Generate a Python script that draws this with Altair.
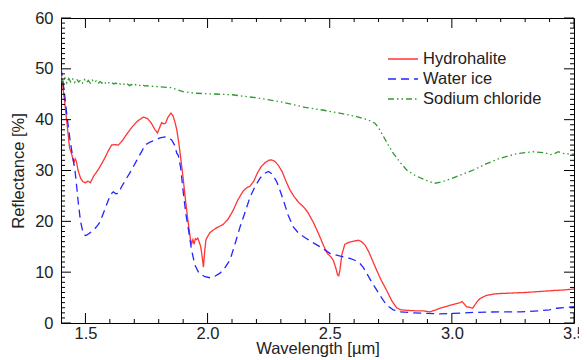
import altair as alt
import pandas as pd

# ---------------- data ----------------
series_names = ["Hydrohalite", "Water ice", "Sodium chloride"]

hyd_wl = [1.400, 1.405, 1.415, 1.425, 1.435, 1.445, 1.452, 1.458, 1.463, 1.470,
          1.480, 1.490, 1.500, 1.510, 1.520, 1.535, 1.550, 1.565, 1.580, 1.595,
          1.607, 1.620, 1.635, 1.650, 1.670, 1.690, 1.710, 1.737, 1.755, 1.770,
          1.785, 1.795, 1.805, 1.812, 1.820, 1.828, 1.838, 1.850, 1.858, 1.866,
          1.874, 1.882, 1.890, 1.900, 1.910, 1.920, 1.930, 1.935, 1.940, 1.945,
          1.950, 1.955, 1.960, 1.966, 1.972, 1.978, 1.983, 1.988, 1.993, 2.000,
          2.010, 2.023, 2.040, 2.064, 2.085, 2.105, 2.125, 2.146, 2.160, 2.174,
          2.190, 2.205, 2.220, 2.235, 2.250, 2.262, 2.275, 2.290, 2.305, 2.320,
          2.337, 2.355, 2.375, 2.392, 2.410, 2.433, 2.455, 2.475, 2.490, 2.505,
          2.515, 2.525, 2.532, 2.537, 2.542, 2.550, 2.562, 2.580, 2.600, 2.617,
          2.630, 2.645, 2.660, 2.675, 2.692, 2.710, 2.733, 2.755, 2.774, 2.790,
          2.815, 2.850, 2.880, 2.910, 2.930, 2.951, 2.980, 3.010, 3.033, 3.042,
          3.050, 3.060, 3.070, 3.085, 3.095, 3.105, 3.115, 3.140, 3.170, 3.197,
          3.250, 3.300, 3.360, 3.420, 3.460, 3.500]
hyd_r = [49.0, 47.5, 43.5, 39.0, 34.5, 33.0, 31.5, 32.3, 31.8, 30.0,
         28.5, 27.8, 27.6, 27.9, 27.6, 29.0, 30.0, 31.2, 32.5, 34.0,
         35.0, 35.1, 35.0, 35.8, 37.2, 38.5, 39.6, 40.5, 40.2, 39.3,
         38.0, 37.4, 38.6, 39.4, 39.2, 39.3, 40.5, 41.3, 40.8, 39.6,
         38.0, 35.5, 32.5, 28.5, 24.0, 20.0, 16.5, 15.6, 16.4, 15.5,
         16.6, 16.4, 16.7, 15.9, 15.0, 13.0, 11.0, 14.0, 16.3, 17.0,
         17.8, 18.3, 18.8, 19.4, 20.5, 22.2, 24.3, 26.0, 26.6, 26.9,
         28.0, 29.6, 30.8, 31.5, 32.0, 32.1, 31.8, 31.0, 29.8, 28.0,
         26.2, 24.8, 23.6, 22.9, 21.8, 19.8, 17.5, 15.2, 13.7, 13.0,
         12.3, 10.8, 9.5, 9.3, 10.5, 13.5, 15.5, 15.9, 16.1, 16.3,
         16.0, 15.3, 14.0, 12.3, 10.4, 8.5, 6.4, 4.3, 3.0, 2.6,
         2.5, 2.4, 2.4, 2.2, 2.5, 2.9, 3.3, 3.7, 4.0, 4.2,
         3.8, 3.2, 3.1, 2.9, 3.6, 4.3, 4.8, 5.4, 5.7, 5.8,
         5.9, 6.0, 6.2, 6.4, 6.5, 6.7]

ice_wl = [1.400, 1.408, 1.416, 1.425, 1.437, 1.447, 1.457, 1.465, 1.471, 1.480,
          1.491, 1.500, 1.505, 1.515, 1.525, 1.539, 1.550, 1.560, 1.575, 1.594,
          1.605, 1.614, 1.625, 1.635, 1.648, 1.665, 1.689, 1.710, 1.730, 1.744,
          1.765, 1.785, 1.805, 1.826, 1.840, 1.853, 1.865, 1.874, 1.880, 1.890,
          1.901, 1.911, 1.921, 1.934, 1.948, 1.965, 1.989, 2.010, 2.030, 2.051,
          2.070, 2.092, 2.112, 2.133, 2.155, 2.174, 2.195, 2.215, 2.232, 2.249,
          2.265, 2.283, 2.297, 2.310, 2.330, 2.351, 2.370, 2.392, 2.425, 2.460,
          2.501, 2.540, 2.583, 2.605, 2.624, 2.638, 2.651, 2.670, 2.692, 2.712,
          2.733, 2.760, 2.788, 2.840, 2.897, 2.950, 3.006, 3.100, 3.197, 3.280,
          3.360, 3.400, 3.430, 3.470, 3.500]
ice_r = [50.2, 47.5, 44.5, 40.5, 36.0, 33.0, 30.1, 26.5, 23.5, 20.0,
         17.6, 17.2, 17.3, 17.6, 18.0, 18.6, 19.2, 19.9, 21.8, 24.2,
         25.4, 25.8, 25.4, 25.5, 26.8, 28.2, 30.1, 32.0, 33.7, 35.0,
         35.6, 36.0, 36.4, 36.6, 36.4, 36.0, 35.0, 33.4, 33.0, 30.5,
         25.5, 21.5, 18.6, 14.5, 11.4, 9.8, 9.1, 8.9, 9.2, 9.8,
         10.8, 12.4, 15.5, 18.9, 22.0, 24.8, 26.9, 28.5, 29.4, 29.8,
         29.3, 27.8, 26.0, 24.2, 21.2, 18.9, 17.8, 17.0, 16.0, 15.0,
         13.7, 13.2, 12.7, 12.3, 11.7, 10.9, 9.8, 8.2, 6.5, 5.0,
         3.5, 2.6, 2.2, 2.0, 1.9, 1.8, 1.9, 2.1, 2.2, 2.2,
         2.4, 2.6, 2.9, 3.1, 3.2]

nacl_wl = [1.400, 1.408, 1.416, 1.424, 1.432, 1.440, 1.448, 1.456, 1.464, 1.472,
           1.480, 1.488, 1.496, 1.504, 1.512, 1.520, 1.528, 1.536, 1.544, 1.552,
           1.560, 1.568, 1.576, 1.584, 1.592, 1.600, 1.608, 1.616, 1.624, 1.632,
           1.640, 1.648, 1.656, 1.664, 1.672, 1.680, 1.688, 1.696, 1.704, 1.712,
           1.720, 1.728, 1.736, 1.744, 1.752, 1.760, 1.800, 1.850, 1.870, 1.900,
           1.950, 2.000, 2.100, 2.200, 2.300, 2.400, 2.470, 2.550, 2.610, 2.660,
           2.685, 2.700, 2.720, 2.740, 2.760, 2.790, 2.815, 2.850, 2.883, 2.910,
           2.931, 2.960, 2.992, 3.040, 3.088, 3.140, 3.197, 3.265, 3.333, 3.380,
           3.402, 3.420, 3.436, 3.460, 3.500]
nacl_r = [48.3, 47.4, 48.2, 47.2, 48.1, 47.4, 48.0, 47.3, 48.0, 47.4,
          47.8, 47.2, 47.9, 47.3, 47.7, 47.2, 47.8, 47.3, 47.6, 47.1,
          47.5, 47.2, 47.5, 47.1, 47.4, 47.1, 47.3, 47.0, 47.2, 46.9,
          47.1, 46.8, 47.0, 46.8, 47.0, 46.7, 46.9, 46.7, 46.9, 46.7,
          46.8, 46.6, 46.8, 46.6, 46.7, 46.6, 46.5, 46.3, 46.0, 45.5,
          45.2, 45.1, 44.9, 44.3, 43.5, 42.4, 41.9, 41.2, 40.6, 39.9,
          39.3, 38.4, 36.7, 35.0, 33.4, 31.5, 30.1, 29.0, 28.3, 27.8,
          27.5, 27.8, 28.3, 29.2, 30.1, 31.3, 32.4, 33.3, 33.7, 33.5,
          33.1, 33.3, 33.7, 33.3, 33.2]

x_major = [1.5, 2.0, 2.5, 3.0, 3.5]
x_minor = [1.6, 1.7, 1.8, 1.9, 2.1, 2.2, 2.3, 2.4, 2.6, 2.7, 2.8, 2.9,
           3.1, 3.2, 3.3, 3.4]
y_major = [0, 10, 20, 30, 40, 50, 60]
y_minor = [v for v in range(1, 60) if v % 10 != 0]

# ---------------- styling ----------------
colors = ["#ff3535", "#2424ff", "#2f9a2f"]
dashes = [[1, 0], [8, 5], [6, 3, 1.5, 3, 1.5, 3]]
FONT = "Liberation Sans"
W, H = 513, 305
MAJ, MIN = 10, 4

df = pd.concat([
    pd.DataFrame({"wl": hyd_wl, "r": hyd_r, "series": series_names[0]}),
    pd.DataFrame({"wl": ice_wl, "r": ice_r, "series": series_names[1]}),
    pd.DataFrame({"wl": nacl_wl, "r": nacl_r, "series": series_names[2]}),
], ignore_index=True)

xs = alt.Scale(domain=[1.4, 3.5], nice=False, zero=False)
ys = alt.Scale(domain=[0, 60], nice=False)

legend = alt.Legend(
    orient="none", legendX=326, legendY=33, title=None,
    symbolType="stroke", symbolSize=900, symbolStrokeWidth=1.5,
    labelFont=FONT, labelFontSize=16.5, labelColor="#222",
    clipHeight=16, rowPadding=3, labelOffset=4, padding=0,
)

x_axis = alt.Axis(
    title="Wavelength [µm]", values=x_major, format=".1f",
    ticks=False, tickSize=0, domain=False, grid=False, labelFlush=False,
    labelPadding=2, titleY=30.5, titleBaseline="alphabetic")
y_axis = alt.Axis(
    title="Reflectance [%]", values=y_major, ticks=False, tickSize=0,
    domain=False, grid=False, labelPadding=8, titlePadding=8)

lines = alt.Chart(df).mark_line(strokeWidth=1.3, clip=True).encode(
    x=alt.X("wl:Q", scale=xs, axis=x_axis),
    y=alt.Y("r:Q", scale=ys, axis=y_axis),
    color=alt.Color("series:N", scale=alt.Scale(domain=series_names, range=colors),
                    legend=legend),
    strokeDash=alt.StrokeDash("series:N", scale=alt.Scale(domain=series_names, range=dashes),
                              legend=legend),
    order=alt.Order("wl:Q"),
)


def xticks(vals, length):
    d = pd.DataFrame({"v": vals})
    base = alt.Chart(d).mark_rule(color="#000", strokeWidth=1)
    bot = base.encode(x=alt.X("v:Q", scale=xs, axis=x_axis),
                      y=alt.value(H), y2=alt.value(H - length))
    top = base.encode(x=alt.X("v:Q", scale=xs, axis=x_axis),
                      y=alt.value(0), y2=alt.value(length))
    return [bot, top]


def yticks(vals, length):
    d = pd.DataFrame({"v": vals})
    base = alt.Chart(d).mark_rule(color="#000", strokeWidth=1)
    left = base.encode(y=alt.Y("v:Q", scale=ys, axis=y_axis),
                       x=alt.value(0), x2=alt.value(length))
    right = base.encode(y=alt.Y("v:Q", scale=ys, axis=y_axis),
                        x=alt.value(W), x2=alt.value(W - length))
    return [left, right]


layers = [lines] + xticks(x_major, MAJ) + xticks(x_minor, MIN) + yticks(y_major, MAJ) + yticks(y_minor, MIN)

chart = alt.layer(*layers).properties(
    width=W, height=H,
    autosize=alt.AutoSizeParams(type="none"),
    padding={"left": 53, "top": 10, "right": 5, "bottom": 35},
).configure_view(
    stroke="#000", strokeWidth=1
).configure_axis(
    labelFont=FONT, labelFontSize=16.5, labelColor="#222",
    titleFont=FONT, titleFontSize=16.5, titleColor="#222", titleFontWeight="normal",
)

chart.save("out.html", embed_options={"renderer": "svg", "actions": False})
